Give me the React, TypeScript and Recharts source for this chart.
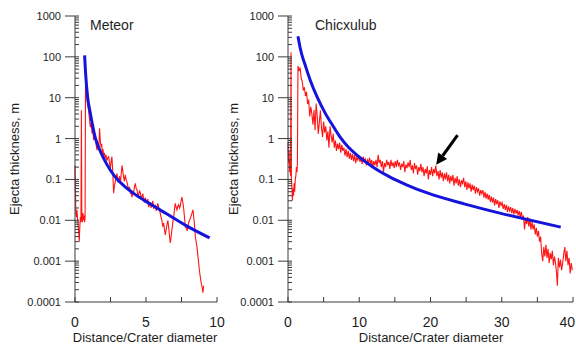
import { LineChart, Line, XAxis, YAxis, ReferenceLine } from "recharts";

// [distance / crater diameter, ejecta thickness in m]
const meteorProfile: [number, number][] = [
  [0.0, 0.22], [0.03, 0.06], [0.06, 0.015], [0.1, 0.012], [0.14, 0.018], [0.18, 0.011], [0.22, 0.008],
  [0.26, 0.005], [0.3, 0.003], [0.34, 0.007], [0.38, 0.012], [0.42, 0.009], [0.45, 4.9], [0.48, 0.012],
  [0.52, 0.009], [0.56, 0.015], [0.6, 0.01], [0.64, 0.013], [0.68, 0.009], [0.71, 0.012], [0.74, 22],
  [0.8, 14], [0.86, 8], [0.91, 6], [0.96, 4.9], [1.02, 3], [1.08, 1.9], [1.14, 2.4], [1.2, 1.33],
  [1.26, 1.6], [1.31, 0.91], [1.37, 1.3], [1.43, 1.1], [1.49, 0.7], [1.55, 0.52], [1.62, 0.8],
  [1.68, 0.6], [1.73, 1.78], [1.78, 0.9], [1.83, 0.63], [1.88, 0.75], [1.92, 0.45], [1.97, 0.55],
  [2.02, 0.39], [2.07, 0.45], [2.12, 0.33], [2.18, 0.4], [2.25, 0.29], [2.31, 0.34], [2.37, 0.36],
  [2.43, 0.25], [2.49, 0.19], [2.55, 0.28], [2.6, 0.36], [2.66, 0.15], [2.72, 0.046], [2.78, 0.07],
  [2.84, 0.09], [2.9, 0.11], [2.96, 0.14], [3.02, 0.09], [3.08, 0.1], [3.14, 0.12], [3.19, 0.08],
  [3.25, 0.13], [3.31, 0.22], [3.37, 0.16], [3.42, 0.115], [3.48, 0.09], [3.54, 0.13], [3.6, 0.1],
  [3.66, 0.087], [3.72, 0.07], [3.78, 0.055], [3.84, 0.066], [3.9, 0.045], [3.95, 0.05], [4.01, 0.037],
  [4.07, 0.045], [4.13, 0.05], [4.19, 0.065], [4.25, 0.08], [4.31, 0.06], [4.37, 0.055], [4.43, 0.04],
  [4.49, 0.043], [4.54, 0.052], [4.6, 0.048], [4.66, 0.035], [4.72, 0.038], [4.78, 0.045], [4.83, 0.031],
  [4.89, 0.027], [4.95, 0.036], [5.01, 0.03], [5.07, 0.028], [5.13, 0.033], [5.19, 0.021], [5.25, 0.024],
  [5.3, 0.028], [5.36, 0.02], [5.42, 0.025], [5.48, 0.03], [5.54, 0.019], [5.6, 0.022], [5.65, 0.023],
  [5.71, 0.017], [5.77, 0.02], [5.83, 0.026], [5.89, 0.021], [5.95, 0.018], [6.0, 0.015], [6.06, 0.012],
  [6.12, 0.01], [6.18, 0.007], [6.24, 0.0085], [6.3, 0.006], [6.36, 0.0044], [6.42, 0.006], [6.48, 0.008],
  [6.54, 0.01], [6.6, 0.0065], [6.66, 0.004], [6.71, 0.0028], [6.77, 0.004], [6.83, 0.006], [6.89, 0.009],
  [6.95, 0.012], [7.0, 0.018], [7.06, 0.026], [7.12, 0.021], [7.18, 0.018], [7.24, 0.022], [7.3, 0.024],
  [7.36, 0.02], [7.41, 0.022], [7.47, 0.03], [7.53, 0.037], [7.59, 0.028], [7.65, 0.02], [7.71, 0.012],
  [7.77, 0.0069], [7.83, 0.0075], [7.89, 0.0055], [7.95, 0.007], [8.0, 0.0085], [8.06, 0.01], [8.12, 0.011],
  [8.18, 0.013], [8.24, 0.015], [8.31, 0.018], [8.36, 0.012], [8.4, 0.009], [8.44, 0.006], [8.47, 0.004],
  [8.53, 0.003], [8.59, 0.0022], [8.65, 0.0014], [8.71, 0.0009], [8.76, 0.0006], [8.82, 0.00042],
  [8.88, 0.0003], [8.94, 0.00024], [9.01, 0.00017], [9.06, 0.00025],
];

const meteorFit: [number, number][] = [
  [0.676, 109], [0.746, 39.7], [0.887, 10.5], [1.077, 4.2], [1.43, 1.04], [1.78, 0.49], [2.27, 0.224],
  [2.84, 0.114], [3.47, 0.0686], [4.13, 0.0455], [5.31, 0.0249], [6.48, 0.0142], [7.89, 0.0072], [9.48, 0.0037],
];

const chicxulubProfile: [number, number][] = [
  [0.0, 0.8], [0.08, 0.25], [0.15, 0.5], [0.22, 0.15], [0.3, 0.3], [0.36, 0.12], [0.42, 130], [0.48, 0.1],
  [0.55, 0.07], [0.62, 0.03], [0.7, 0.06], [0.78, 0.04], [0.86, 0.08], [0.94, 0.05], [1.02, 0.1],
  [1.1, 0.12], [1.18, 0.2], [1.26, 0.15], [1.32, 0.25], [1.4, 60], [1.55, 45], [1.7, 55], [1.85, 30],
  [2.0, 25], [2.15, 15], [2.3, 18], [2.45, 11], [2.6, 14], [2.75, 7], [2.9, 9], [3.05, 3.5], [3.2, 6],
  [3.35, 4], [3.5, 2.2], [3.65, 5], [3.8, 1.6], [3.95, 7.2], [4.1, 3.5], [4.25, 1.3], [4.4, 2.5],
  [4.55, 4.9], [4.7, 1.8], [4.85, 1.1], [5.0, 2.6], [5.15, 1.4], [5.3, 2.0], [5.45, 0.9], [5.6, 1.5],
  [5.75, 0.6], [5.9, 2.0], [6.05, 1.2], [6.2, 0.8], [6.35, 1.3], [6.5, 0.6], [6.65, 0.9], [6.8, 0.5],
  [6.95, 0.75], [7.1, 0.55], [7.25, 0.8], [7.4, 0.45], [7.55, 0.7], [7.7, 0.5], [7.85, 0.6], [8.0, 0.38],
  [8.15, 0.55], [8.3, 0.35], [8.45, 0.5], [8.6, 0.32], [8.75, 0.45], [8.9, 0.3], [9.05, 0.42], [9.2, 0.28],
  [9.35, 0.4], [9.5, 0.25], [9.65, 0.35], [9.8, 0.3], [9.95, 0.38], [10.1, 0.27], [10.25, 0.33],
  [10.4, 0.24], [10.55, 0.36], [10.7, 0.28], [10.85, 0.32], [11.0, 0.22], [11.15, 0.3], [11.3, 0.25],
  [11.45, 0.34], [11.6, 0.23], [11.75, 0.3], [11.9, 0.2], [12.05, 0.28], [12.2, 0.22], [12.35, 0.3],
  [12.5, 0.2], [12.65, 0.4], [12.8, 0.25], [12.95, 0.3], [13.1, 0.2], [13.25, 0.28], [13.4, 0.15],
  [13.55, 0.25], [13.7, 0.2], [13.85, 0.3], [14.0, 0.22], [14.15, 0.27], [14.3, 0.18], [14.45, 0.3],
  [14.6, 0.21], [14.75, 0.26], [14.9, 0.19], [15.05, 0.28], [15.2, 0.2], [15.35, 0.3], [15.5, 0.22],
  [15.65, 0.26], [15.8, 0.17], [15.95, 0.24], [16.1, 0.2], [16.25, 0.28], [16.4, 0.15], [16.55, 0.23],
  [16.7, 0.19], [16.85, 0.26], [17.0, 0.2], [17.15, 0.3], [17.3, 0.17], [17.45, 0.22], [17.6, 0.14],
  [17.75, 0.25], [17.9, 0.18], [18.05, 0.22], [18.2, 0.13], [18.35, 0.2], [18.5, 0.16], [18.65, 0.24],
  [18.8, 0.15], [18.95, 0.2], [19.1, 0.12], [19.25, 0.18], [19.4, 0.14], [19.55, 0.21], [19.7, 0.1],
  [19.85, 0.17], [20.0, 0.13], [20.15, 0.2], [20.3, 0.12], [20.45, 0.18], [20.6, 0.14], [20.75, 0.22],
  [20.9, 0.12], [21.05, 0.16], [21.2, 0.1], [21.35, 0.17], [21.5, 0.11], [21.65, 0.15], [21.8, 0.09],
  [21.95, 0.14], [22.1, 0.1], [22.25, 0.15], [22.4, 0.09], [22.55, 0.13], [22.7, 0.08], [22.85, 0.12],
  [23.0, 0.09], [23.15, 0.13], [23.3, 0.07], [23.45, 0.11], [23.6, 0.08], [23.75, 0.12], [23.9, 0.07],
  [24.05, 0.1], [24.2, 0.065], [24.35, 0.095], [24.5, 0.08], [24.65, 0.11], [24.8, 0.065], [24.95, 0.09],
  [25.1, 0.055], [25.25, 0.085], [25.4, 0.06], [25.55, 0.08], [25.7, 0.05], [25.85, 0.075], [26.0, 0.055],
  [26.15, 0.07], [26.3, 0.045], [26.45, 0.065], [26.6, 0.05], [26.75, 0.06], [26.9, 0.04], [27.05, 0.055],
  [27.2, 0.045], [27.35, 0.055], [27.5, 0.036], [27.65, 0.05], [27.8, 0.034], [27.95, 0.045], [28.1, 0.032],
  [28.25, 0.042], [28.4, 0.028], [28.55, 0.038], [28.7, 0.027], [28.85, 0.036], [29.0, 0.023], [29.15, 0.033],
  [29.3, 0.025], [29.45, 0.031], [29.6, 0.02], [29.75, 0.029], [29.9, 0.023], [30.05, 0.027], [30.2, 0.019],
  [30.35, 0.025], [30.5, 0.018], [30.65, 0.024], [30.8, 0.016], [30.95, 0.022], [31.1, 0.017], [31.25, 0.021],
  [31.4, 0.015], [31.55, 0.02], [31.7, 0.014], [31.85, 0.019], [32.0, 0.015], [32.15, 0.018], [32.3, 0.013],
  [32.45, 0.017], [32.6, 0.012], [32.75, 0.016], [32.9, 0.011], [33.05, 0.013], [33.2, 0.006], [33.35, 0.011],
  [33.5, 0.008], [33.65, 0.012], [33.8, 0.007], [33.95, 0.011], [34.1, 0.006], [34.25, 0.009], [34.4, 0.006],
  [34.55, 0.008], [34.7, 0.0045], [34.85, 0.0065], [35.0, 0.004], [35.15, 0.0055], [35.3, 0.003],
  [35.45, 0.004], [35.6, 0.0016], [35.75, 0.001], [35.9, 0.0022], [36.05, 0.0013], [36.2, 0.0025],
  [36.35, 0.0012], [36.5, 0.002], [36.65, 0.0009], [36.8, 0.0016], [36.95, 0.0011], [37.1, 0.0018],
  [37.25, 0.0008], [37.4, 0.0013], [37.55, 0.0009], [37.7, 0.0005], [37.8, 0.00025], [37.95, 0.0012],
  [38.1, 0.0007], [38.25, 0.0011], [38.4, 0.0006], [38.55, 0.0009], [38.7, 0.0015], [38.85, 0.0022],
  [39.0, 0.001], [39.15, 0.0018], [39.3, 0.0008], [39.45, 0.0012], [39.6, 0.0005], [39.75, 0.0009],
  [39.9, 0.0006],
];

const chicxulubFit: [number, number][] = [
  [1.4, 319], [1.72, 162], [2.0, 104], [2.42, 62], [3.12, 26.8], [4.1, 10.3], [5.22, 4.2], [6.34, 2.0],
  [7.32, 1.08], [8.45, 0.62], [9.71, 0.39], [11.95, 0.2], [14.33, 0.114], [16.71, 0.073], [19.65, 0.046],
  [24.83, 0.0249], [29.73, 0.015], [38.28, 0.0068],
];

// arrow pointing at the shoulder of the Chicxulub profile
const arrowFrom = { x: 23.8, y: 1.21 };
const arrowTo = { x: 20.8, y: 0.23 };

const yMajor = [0.0001, 0.001, 0.01, 0.1, 1, 10, 100, 1000];
const meteorXTicks = [0, 2.5, 5, 7.5, 10];
const meteorXLabels = [0, 5, 10];
const chicxulubXTicks = [0, 5, 10, 15, 20, 25, 30, 35, 40];
const chicxulubXLabels = [0, 10, 20, 30, 40];

const yTicks = yMajor.flatMap((m, i) =>
  i === yMajor.length - 1 ? [m] : [1, 2, 3, 4, 5, 6, 7, 8, 9].map((k) => m * k)
);

const FONT = '"Liberation Sans", Arial, Helvetica, sans-serif';
const AXIS = "#3a3a3a";
const INK = "#1e1e1e";
const RED = "#ff1414";
const BLUE = "#1414dc";

const toRows = (pts: [number, number][]) => pts.map(([x, v]) => ({ x, v }));

function YTick({ x, y, payload }: any) {
  const major = yMajor.includes(payload.value);
  return (
    <g>
      <line x1={major ? x - 10 : x} x2={x + 4} y1={y} y2={y} stroke={AXIS} strokeWidth={1} />
      {major && (
        <text x={x - 14} y={y} dy="0.36em" textAnchor="end" fontSize={11} fill={INK} fontFamily={FONT}>
          {String(payload.value)}
        </text>
      )}
    </g>
  );
}

// the last label of the wide panel sits on the page edge, so it is anchored at its end
function makeXTick(labels: number[], edgeValue?: number) {
  return ({ x, y, payload }: any) => {
    const atEdge = payload.value === edgeValue;
    return (
      <g>
        <line x1={x} x2={x} y1={y} y2={y - 5} stroke={AXIS} strokeWidth={1} />
        {labels.includes(payload.value) && (
          <text
            x={atEdge ? x + 2 : x}
            y={y + 20}
            dy="0.36em"
            textAnchor={atEdge ? "end" : "middle"}
            fontSize={14}
            fill={INK}
            fontFamily={FONT}
          >
            {payload.value}
          </text>
        )}
      </g>
    );
  };
}

function Arrow(p: any) {
  const { x1, y1, x2, y2 } = p;
  const len = Math.hypot(x2 - x1, y2 - y1) || 1;
  const ux = (x2 - x1) / len;
  const uy = (y2 - y1) / len;
  const bx = x2 - ux * 11;
  const by = y2 - uy * 11;
  return (
    <g>
      <line x1={x1} y1={y1} x2={bx} y2={by} stroke="#000" strokeWidth={3} />
      <polygon points={`${x2},${y2} ${bx - uy * 5.5},${by + ux * 5.5} ${bx + uy * 5.5},${by - ux * 5.5}`} fill="#000" />
    </g>
  );
}

interface PanelProps {
  left: number;
  width: number;
  marginLeft: number;
  marginRight: number;
  xMax: number;
  xTicks: number[];
  xLabels: number[];
  edgeLabel?: number;
  profile: [number, number][];
  fit: [number, number][];
  yTitleX: number;
  xTitleX: number;
  withArrow?: boolean;
}

function Panel(p: PanelProps) {
  return (
    <div style={{ position: "absolute", left: p.left, top: 0 }}>
      <LineChart
        width={p.width}
        height={344}
        margin={{ top: 16, right: p.marginRight, bottom: 0, left: p.marginLeft }}
      >
        <XAxis
          dataKey="x"
          type="number"
          domain={[0, p.xMax]}
          ticks={p.xTicks}
          interval={0}
          height={42}
          tickSize={0}
          tickMargin={0}
          tickLine={false}
          tick={makeXTick(p.xLabels, p.edgeLabel)}
          axisLine={{ stroke: AXIS }}
          allowDuplicatedCategory={false}
          label={{
            content: () => (
              <text x={p.xTitleX} y={342} textAnchor="middle" fontSize={13} fill={INK} fontFamily={FONT}>
                Distance/Crater diameter
              </text>
            ),
          }}
        />
        <YAxis
          type="number"
          scale="log"
          domain={[0.0001, 1000]}
          allowDataOverflow
          ticks={yTicks}
          interval={0}
          width={60}
          tickSize={0}
          tickMargin={0}
          tickLine={false}
          tick={YTick}
          axisLine={{ stroke: AXIS }}
          label={{
            content: () => (
              <text
                x={p.yTitleX}
                y={159}
                transform={`rotate(-90 ${p.yTitleX} 159)`}
                textAnchor="middle"
                dominantBaseline="central"
                fontSize={13}
                fill={INK}
                fontFamily={FONT}
              >
                Ejecta thickness, m
              </text>
            ),
          }}
        />
        <Line
          data={toRows(p.profile)}
          dataKey="v"
          type="linear"
          stroke={RED}
          strokeWidth={1.1}
          dot={false}
          isAnimationActive={false}
        />
        <Line
          data={toRows(p.fit)}
          dataKey="v"
          type="monotone"
          stroke={BLUE}
          strokeWidth={3}
          dot={false}
          isAnimationActive={false}
        />
        {p.withArrow && (
          <ReferenceLine segment={[arrowFrom, arrowTo]} shape={Arrow} ifOverflow="visible" />
        )}
      </LineChart>
    </div>
  );
}

const titleStyle = {
  position: "absolute" as const,
  top: 18,
  fontSize: 14,
  lineHeight: "14px",
  color: INK,
  fontFamily: FONT,
};

export default function App() {
  return (
    <div style={{ position: "absolute", left: 0, top: 0, width: 576, height: 344, background: "#fff", overflow: "hidden" }}>
      <Panel
        left={0}
        width={250}
        marginLeft={15}
        marginRight={33}
        xMax={10}
        xTicks={meteorXTicks}
        xLabels={meteorXLabels}
        profile={meteorProfile}
        fit={meteorFit}
        yTitleX={14}
        xTitleX={145}
      />
      <Panel
        left={215}
        width={361}
        marginLeft={13}
        marginRight={3}
        xMax={40}
        xTicks={chicxulubXTicks}
        xLabels={chicxulubXLabels}
        edgeLabel={40}
        profile={chicxulubProfile}
        fit={chicxulubFit}
        yTitleX={18}
        xTitleX={216}
        withArrow
      />
      <div style={{ ...titleStyle, left: 90 }}>Meteor</div>
      <div style={{ ...titleStyle, left: 315 }}>Chicxulub</div>
    </div>
  );
}
